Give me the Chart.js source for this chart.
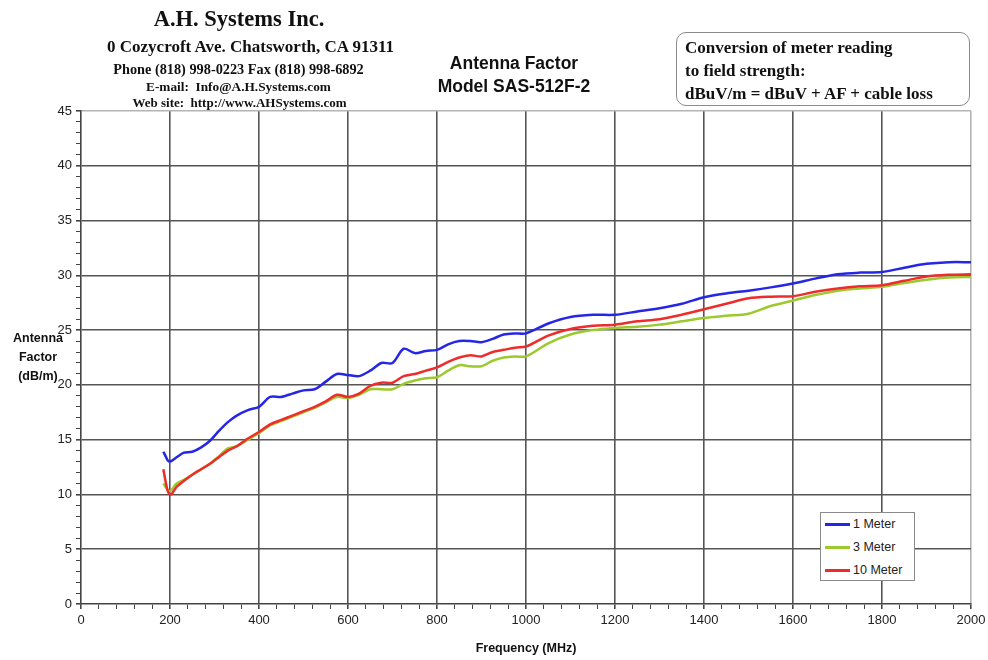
<!DOCTYPE html>
<html>
<head>
<meta charset="utf-8">
<script src="https://cdn.jsdelivr.net/npm/chart.js@4"></script>
<style>
  html, body { margin: 0; padding: 0; background: #fff; }
  #wrap { position: relative; width: 988px; height: 660px; }
  #myChart { position: absolute; left: 0; top: 0; }
  .t { position: absolute; white-space: nowrap; color: #111; }
  .serif { font-family: "Liberation Serif", "Times New Roman", serif; font-weight: bold; }
  .sans { font-family: "Liberation Sans", Arial, sans-serif; font-weight: bold; }
  #convBox { position: absolute; left: 676px; top: 32px; width: 292px; height: 72px;
    border: 1.5px solid #8a8a8a; border-radius: 10px; background: #fff; }
  #legendBox { position: absolute; left: 820px; top: 512px; width: 93px; height: 67px;
    border: 1px solid #8a8a8a; background: #fff; font-family: "Liberation Sans", Arial, sans-serif;
    font-size: 12.5px; color: #222; }
  .lg { position: absolute; left: 4px; height: 16px; line-height: 16px; }
  .lg span { display: inline-block; width: 25px; height: 2.5px; vertical-align: middle; margin-right: 3px; }
</style>
</head>
<body>
<div id="wrap">
  <canvas id="myChart" width="988" height="660"></canvas>

  <div class="t serif" style="left:0; width:478px; text-align:center; top:6px; font-size:22.5px;">A.H. Systems Inc.</div>
  <div class="t serif" style="left:0; width:501px; text-align:center; top:37px; font-size:17px;">0 Cozycroft Ave. Chatsworth, CA 91311</div>
  <div class="t serif" style="left:0; width:477px; text-align:center; top:61px; font-size:14.3px;">Phone (818) 998-0223 Fax (818) 998-6892</div>
  <div class="t serif" style="left:0; width:477px; text-align:center; top:79px; font-size:13.3px;">E-mail:&nbsp; Info@A.H.Systems.com</div>
  <div class="t serif" style="left:0; width:479px; text-align:center; top:95px; font-size:13px;">Web site:&nbsp; http://www.AHSystems.com</div>

  <div class="t sans" style="left:414px; width:200px; text-align:center; top:53px; font-size:17.5px;">Antenna Factor</div>
  <div class="t sans" style="left:414px; width:200px; text-align:center; top:76px; font-size:17.5px;">Model SAS-512F-2</div>

  <div id="convBox">
    <div class="t serif" style="left:8px; top:5px; font-size:17px;">Conversion of meter reading</div>
    <div class="t serif" style="left:8px; top:28px; font-size:17px;">to field strength:</div>
    <div class="t serif" style="left:8px; top:51px; font-size:17px;">dBuV/m = dBuV + AF + cable loss</div>
  </div>

  <div class="t sans" style="left:0; width:76px; text-align:center; top:329px; font-size:12.5px; line-height:19px;">Antenna<br>Factor<br>(dB/m)</div>

  <div id="legendBox"></div>
</div>

<script>
const ctx = document.getElementById('myChart');

// frequency points (MHz) shared by all three curves
const freqMHz = [185, 190, 195, 200, 205, 215, 230, 250, 270, 290, 310, 330, 350, 375, 400, 425, 450, 475, 500, 525,
    550, 575, 600, 625, 650, 675, 700, 725, 750, 775, 800, 825, 850, 875, 900, 925, 950, 975, 1000,
    1050, 1100, 1150, 1200, 1250, 1300, 1350, 1400, 1450, 1500, 1550, 1600, 1650, 1700, 1750, 1800,
    1850, 1900, 1950, 2000];

const af1m = [13.9, 13.5, 13.1, 13.0, 13.1, 13.4, 13.8, 13.9, 14.3, 14.9, 15.8, 16.6, 17.2, 17.7, 18.0, 18.9, 18.9, 19.2, 19.5, 19.6,
    20.3, 21.0, 20.9, 20.8, 21.3, 22.0, 22.0, 23.3, 22.9, 23.1, 23.2, 23.7, 24.0, 24.0, 23.9, 24.2, 24.6, 24.7, 24.7,
    25.6, 26.2, 26.4, 26.4, 26.7, 27.0, 27.4, 28.0, 28.35, 28.6, 28.9, 29.25, 29.7, 30.1, 30.25, 30.3,
    30.7, 31.05, 31.2, 31.2];

const af3m = [11.0, 10.7, 10.4, 10.3, 10.5, 11.0, 11.3, 11.8, 12.3, 12.8, 13.5, 14.2, 14.4, 15.0, 15.6, 16.3, 16.7, 17.1, 17.5, 17.9,
    18.4, 18.9, 18.8, 19.1, 19.6, 19.6, 19.6, 20.1, 20.4, 20.6, 20.7, 21.3, 21.8, 21.7, 21.7, 22.2, 22.5, 22.6, 22.6,
    23.8, 24.6, 25.0, 25.2, 25.3, 25.5, 25.8, 26.1, 26.3, 26.5, 27.2, 27.7, 28.2, 28.6, 28.8, 28.95,
    29.3, 29.6, 29.8, 29.85];

const af10m = [12.3, 11.2, 10.3, 10.0, 10.1, 10.7, 11.2, 11.8, 12.3, 12.8, 13.4, 14.0, 14.4, 15.1, 15.7, 16.4, 16.8, 17.2, 17.6, 18.0,
    18.5, 19.1, 18.9, 19.2, 19.9, 20.2, 20.2, 20.8, 21.0, 21.3, 21.6, 22.1, 22.5, 22.7, 22.6, 23.0, 23.2, 23.4, 23.5,
    24.5, 25.1, 25.4, 25.5, 25.8, 26.0, 26.4, 26.9, 27.4, 27.9, 28.05, 28.1, 28.5, 28.8, 29.0, 29.1,
    29.5, 29.9, 30.05, 30.1];

const seriesNames = ['1 Meter', '3 Meter', '10 Meter'];
const seriesColors = ['#2626e6', '#9cc92e', '#ee2c2c'];

const pts = (ys) => freqMHz.map((f, i) => ({ x: f, y: ys[i] }));

const chartData = {
    datasets: [
        { label: seriesNames[0], data: pts(af1m), borderColor: seriesColors[0], order: 2 },
        { label: seriesNames[1], data: pts(af3m), borderColor: seriesColors[1], order: 1 },
        { label: seriesNames[2], data: pts(af10m), borderColor: seriesColors[2], order: 0 },
    ]
};

const fixBox = (w, h) => function (s) {
    if (w !== null) s.width = w;
    if (h !== null) s.height = h;
    s.paddingLeft = 0; s.paddingRight = 0; s.paddingTop = 0; s.paddingBottom = 0;
};

const tickFont = { family: '"Liberation Sans Narrow", "Liberation Sans", Arial, sans-serif', size: 13 };

const chart = new Chart(ctx, {
    type: 'line',
    data: chartData,
    options: {
        responsive: false,
        animation: false,
        devicePixelRatio: 1,
        layout: { padding: { top: 111, right: 17, left: 0, bottom: 0 } },
        elements: {
            point: { radius: 0 },
            line: { borderWidth: 2.5, tension: 0.3, fill: false }
        },
        plugins: {
            legend: { display: false },
            tooltip: { enabled: false }
        },
        scales: {
            x: {
                type: 'linear',
                min: 0,
                max: 2000,
                afterFit: fixBox(null, 56),
                ticks: {
                    stepSize: 40,
                    autoSkip: false,
                    maxRotation: 0,
                    padding: 4,
                    color: '#222',
                    font: tickFont,
                    callback: (v) => (v % 200 === 0 ? String(v) : '')
                },
                grid: {
                    lineWidth: (c) => (c.tick && c.tick.value % 200 === 0 ? 1.6 : 1),
                    color: (c) => {
                        if (!c.tick) return 'transparent';
                        if (c.tick.value === 2000) return '#b4b4b4';
                        return c.tick.value % 200 === 0 && c.tick.value > 0 ? '#555' : 'transparent';
                    },
                    tickColor: '#444',
                    tickLength: 5
                },
                border: { color: '#444', width: 1.6 },
                title: {
                    display: true,
                    text: 'Frequency (MHz)',
                    color: '#111',
                    font: { family: '"Liberation Sans", Arial, sans-serif', size: 12.5, weight: 'bold' },
                    padding: { top: 0, bottom: 4 }
                }
            },
            y: {
                type: 'linear',
                min: 0,
                max: 45,
                afterFit: fixBox(81, null),
                ticks: {
                    stepSize: 1,
                    autoSkip: false,
                    padding: 4,
                    color: '#222',
                    font: tickFont,
                    callback: (v) => (v % 5 === 0 ? String(v) : '')
                },
                grid: {
                    lineWidth: (c) => (c.tick && c.tick.value % 5 === 0 ? 1.6 : 1),
                    color: (c) => {
                        if (!c.tick) return 'transparent';
                        if (c.tick.value === 45) return '#b4b4b4';
                        return c.tick.value % 5 === 0 && c.tick.value > 0 ? '#555' : 'transparent';
                    },
                    tickColor: '#444',
                    tickLength: 5
                },
                border: { color: '#444', width: 1.6 }
            }
        }
    }
});

// legend built from the datasets
const legendBox = document.getElementById('legendBox');
chart.data.datasets.forEach((ds, i) => {
    const row = document.createElement('div');
    row.className = 'lg';
    row.style.top = (3 + i * 23) + 'px';
    row.innerHTML = '<span style="background:' + ds.borderColor + '"></span>' + ds.label;
    legendBox.appendChild(row);
});
</script>
</body>
</html>
